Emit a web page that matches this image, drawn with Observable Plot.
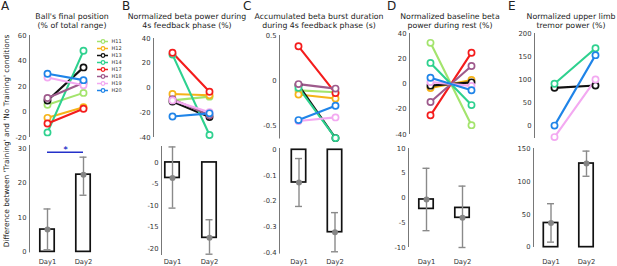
<!DOCTYPE html>
<html><head><meta charset="utf-8">
<script src="https://cdn.jsdelivr.net/npm/d3@7"></script>
<script src="https://cdn.jsdelivr.net/npm/@observablehq/plot@0.6"></script>
<style>
body{margin:0;background:#fff;}
#fig{position:relative;width:617px;height:266px;overflow:hidden;font-family:"DejaVu Sans",sans-serif;color:#222;}
.title{position:absolute;text-align:center;font-size:7.8px;line-height:9px;white-space:nowrap;transform:translateX(-50%);color:#222;}
.letter{position:absolute;font-size:12px;line-height:12px;color:#222;}
.ylab{position:absolute;font-size:7.4px;white-space:nowrap;transform:translate(-50%,-50%) rotate(-90deg);color:#222;}
</style></head><body><div id="fig"></div>
<script>
// ---------- data ----------
const days = ["Day1", "Day2"];
const subjects = ["H11","H12","H13","H14","H17","H18","H19","H20"];
const subjectColors = ["#a3e46c","#f6b318","#111111","#2ed18f","#f41c1c","#9e5a8c","#f3a9f1","#1f84e8"];

// top row: individual subjects, Day1 / Day2
const ballDay1   = [5.6, -4.6, 9, -16, -9, 11, 27, 30];
const ballDay2   = [15, 3.8, 35, 48, 2.5, 23, 21, 25];
const betaDay1   = [-10, -4.8, -11, 27, 28.5, -9, -10, -23];
const betaDay2   = [-7, -5.8, -23.5, -38, -3, -22, -19.5, -20.5];
const burstDay1  = [-0.11, -0.155, -0.05, -0.08, 0.38, -0.04, -0.45, -0.44];
const burstDay2  = [-0.13, -0.2, -0.64, -0.64, -0.14, -0.09, -0.41, -0.28];
const restDay1   = [32.6, -3.2, -1.3, 16.7, -24.8, -14.3, 1.5, 5];
const restDay2   = [-32.6, 3.2, 1.3, -16.7, 24.8, 14.3, -1.5, -5];
const tremorDay1 = [null, null, 82, 91, null, null, -25, 0];
const tremorDay2 = [null, null, 87, 168, null, null, 100, 153];

// bottom row: group bars (base -> mean), mean dot, error range
const ballBase = [0, 0],     ballMean = [6.5, 22.5],    ballLow = [0.6, 16.5],     ballHigh = [12.5, 27.6];
const betaBase = [0, 0],     betaMean = [-3.6, -17.5],  betaLow = [-10.6, -21.3],  betaHigh = [3.6, -13.3];
const burstBase = [0, 0],    burstMean = [-0.127, -0.32], burstLow = [-0.22, -0.396], burstHigh = [-0.034, -0.244];
const restBase = [-2.2, -2.0], restMean = [-0.3, -4.0], restLow = [-6.6, -10],     restHigh = [6, 2.4];
const tremorBase = [0, 0],   tremorMean = [37, 128],    tremorLow = [7.7, 108.5],  tremorHigh = [66.5, 147];

// significance marker (panel A bottom)
const sigFrom = 1, sigTo = 2, sigLevel = 29, sigLabel = "*";

const panelLetters = ["A","B","C","D","E"];
const panelTitles = [
  ["Ball's final position", "(% of total range)"],
  ["Normalized beta power during", "4s feedback phase (%)"],
  ["Accumulated beta burst duration", "during 4s feedback phase (s)"],
  ["Normalized baseline beta", "power during rest (%)"],
  ["Normalized upper limb", "tremor power (%)"]
];
const yAxisLabel = "Difference between 'Training' and 'No Training' conditions";

const topTicks = [[-20,0,20,40,60],[-40,-20,0,20,40],[-0.5,0,0.5],[-40,-20,0,20,40],[0,50,100,150,200]];
const bottomTicks = [[0,10,20,30],[-20,-15,-10,-5,0],[-0.4,-0.3,-0.2,-0.1,0],[-10,-5,0,5,10],[0,50,100,150]];

// ---------- layout ----------
const FONT = "'DejaVu Sans', sans-serif";
const TICKFS = "6.8px";
const fig = document.getElementById("fig");
function place(node, left, top) {
  node.style.position = "absolute"; node.style.left = left + "px"; node.style.top = top + "px";
  fig.appendChild(node);
}
const baseStyle = {fontFamily: FONT, fontSize: TICKFS, color: "#333", background: "transparent", overflow: "visible", maxWidth: "none"};

const topLayout = [
  {axisX: 29,  x1: 47,  x2: 83,  yDom: [-20, 60],     yPx: [137, 35]},
  {axisX: 153, x1: 172, x2: 209, yDom: [-40, 40],     yPx: [137, 38]},
  {axisX: 279, x1: 298, x2: 335, yDom: [-0.65, 0.5],  yPx: [138.5, 35]},
  {axisX: 409, x1: 430, x2: 471, yDom: [-40, 40],     yPx: [134, 33]},
  {axisX: 534, x1: 554, x2: 595, yDom: [-28, 200],    yPx: [138, 33]}
];
const bottomLayout = [
  {axisX: 29,  x1: 47,  x2: 83,  yDom: [-0.3, 31],      yPx: [252, 144.6]},
  {axisX: 161, x1: 172, x2: 209, yDom: [-21.6, 3.7],    yPx: [255, 146]},
  {axisX: 279, x1: 298.5, x2: 334.5, yDom: [-0.405, 0.005], yPx: [253.3, 147.7]},
  {axisX: 408, x1: 426, x2: 462, yDom: [-10, 10],       yPx: [247, 148]},
  {axisX: 533, x1: 550.5, x2: 586, yDom: [-0.5, 151],   yPx: [247.3, 148.3]}
];

function topPanel(L, ticks, d1, d2) {
  const left = L.axisX - 26, top = L.yPx[1] - 6;
  const step = L.x2 - L.x1, rightPx = L.x2 + 10;
  const width = rightPx - left, height = L.yPx[0] - top + 6;
  const xDom = [1 - (L.x1 - L.axisX) / step, 2 + (rightPx - L.x2) / step];
  const rows = [];
  subjects.forEach((s, i) => {
    if (d1[i] == null) return;
    rows.push({s, c: subjectColors[i], x: 1, v: d1[i]}, {s, c: subjectColors[i], x: 2, v: d2[i]});
  });
  const svg = Plot.plot({
    width, height,
    marginLeft: L.axisX - left, marginRight: 0,
    marginTop: L.yPx[1] - top, marginBottom: height - (L.yPx[0] - top),
    style: baseStyle,
    x: {domain: xDom, axis: null, label: null},
    y: {domain: L.yDom, ticks, tickFormat: d => String(d), tickSize: 0, tickPadding: 3, label: null},
    color: {type: "identity"},
    marks: [
      Plot.ruleX([xDom[0]], {stroke: "#777", strokeWidth: 1}),
      Plot.line(rows, {x: "x", y: "v", z: "s", stroke: "c", strokeWidth: 2.1}),
      Plot.dot(rows, {x: "x", y: "v", r: 3.1, stroke: "c", fill: "white", strokeWidth: 1.7})
    ]
  });
  place(svg, left, top);
}

function bottomPanel(L, ticks, base, mean, low, high, extra = []) {
  const left = L.axisX - 26, top = L.yPx[1] - 6;
  const step = L.x2 - L.x1, rightPx = L.x2 + 14;
  const width = rightPx - left, height = 266 - top;
  const xDom = [1 - (L.x1 - L.axisX) / step, 2 + (rightPx - L.x2) / step];
  const hw = 7.2 / step, cap = 3.5 / step;
  const rows = days.map((d, i) => ({x: i + 1, base: base[i], mean: mean[i], lo: low[i], hi: high[i]}));
  const pad = 261 - 2.4 - L.yPx[0];
  const svg = Plot.plot({
    width, height,
    marginLeft: L.axisX - left, marginRight: 0,
    marginTop: L.yPx[1] - top, marginBottom: height - (L.yPx[0] - top),
    style: baseStyle,
    x: {domain: xDom, label: null},
    y: {domain: L.yDom, ticks, tickFormat: d => String(d), tickSize: 0, tickPadding: 3, label: null},
    marks: [
      Plot.ruleX([xDom[0]], {stroke: "#777", strokeWidth: 1}),
      Plot.rect(rows, {x1: d => d.x - hw, x2: d => d.x + hw, y1: "base", y2: "mean", fill: "white", stroke: "#111", strokeWidth: 1.7}),
      Plot.ruleX(rows, {x: "x", y1: "lo", y2: "hi", stroke: "#8a8a8a", strokeWidth: 1.4}),
      Plot.ruleY(rows, {y: "lo", x1: d => d.x - cap, x2: d => d.x + cap, stroke: "#8a8a8a", strokeWidth: 1.4}),
      Plot.ruleY(rows, {y: "hi", x1: d => d.x - cap, x2: d => d.x + cap, stroke: "#8a8a8a", strokeWidth: 1.4}),
      Plot.dot(rows, {x: "x", y: "mean", r: 3, fill: "#858585"}),
      Plot.axisX({ticks: [1, 2], tickFormat: d => days[d - 1], tickSize: 0, tickPadding: pad, label: null}),
      ...extra
    ]
  });
  place(svg, left, top);
}

// top row
const topData = [[ballDay1, ballDay2],[betaDay1, betaDay2],[burstDay1, burstDay2],[restDay1, restDay2],[tremorDay1, tremorDay2]];
topLayout.forEach((L, i) => topPanel(L, topTicks[i], topData[i][0], topData[i][1]));

// bottom row
const sigMarks = [
  Plot.ruleY([sigLevel], {x1: sigFrom, x2: sigTo, stroke: "#2431c9", strokeWidth: 1.5}),
  Plot.text([sigLabel], {x: (sigFrom + sigTo) / 2, y: sigLevel, text: d => d, fill: "#2431c9", fontSize: 8, fontWeight: "bold", lineAnchor: "bottom", dy: 0})
];
bottomPanel(bottomLayout[0], bottomTicks[0], ballBase, ballMean, ballLow, ballHigh, sigMarks);
bottomPanel(bottomLayout[1], bottomTicks[1], betaBase, betaMean, betaLow, betaHigh);
bottomPanel(bottomLayout[2], bottomTicks[2], burstBase, burstMean, burstLow, burstHigh);
bottomPanel(bottomLayout[3], bottomTicks[3], restBase, restMean, restLow, restHigh);
bottomPanel(bottomLayout[4], bottomTicks[4], tremorBase, tremorMean, tremorLow, tremorHigh);

// legend (panel A)
{
  const rows = subjects.map((s, i) => ({s, c: subjectColors[i]}));
  const lg = Plot.plot({
    width: 30, height: 60, marginLeft: 0, marginRight: 0, marginTop: 5, marginBottom: 5,
    style: {fontFamily: FONT, fontSize: "5px", color: "#333", background: "transparent", overflow: "visible"},
    x: {domain: [0, 30], axis: null},
    y: {type: "point", domain: subjects, padding: 0, axis: null},
    color: {type: "identity"},
    marks: [
      Plot.ruleY(rows, {y: "s", x1: 5, x2: 16, stroke: "c", strokeWidth: 1.5}),
      Plot.dot(rows, {x: 10.5, y: "s", r: 1.8, stroke: "c", fill: "white", strokeWidth: 1.2}),
      Plot.text(rows, {x: 19, y: "s", text: "s", textAnchor: "start", fill: "#333"})
    ]
  });
  place(lg, 92, 35);
}

// titles, letters, y label
const titleCenters = [72, 187, 319, 450, 571];
const letterX = [1, 122, 243, 387, 508];
panelTitles.forEach((t, i) => {
  const d = document.createElement("div");
  d.className = "title";
  d.innerHTML = t[0] + "<br>" + t[1];
  d.style.left = titleCenters[i] + "px"; d.style.top = "12px";
  fig.appendChild(d);
  const l = document.createElement("div");
  l.className = "letter"; l.textContent = panelLetters[i];
  l.style.left = letterX[i] + "px"; l.style.top = "0px";
  fig.appendChild(l);
});
const yl = document.createElement("div");
yl.className = "ylab"; yl.textContent = yAxisLabel;
yl.style.left = "6px"; yl.style.top = "141px";
fig.appendChild(yl);
</script></body></html>
